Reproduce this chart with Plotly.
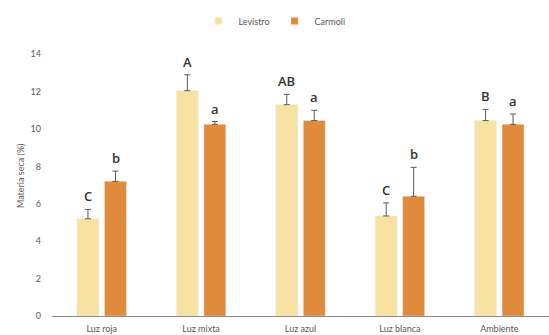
import plotly.graph_objects as go

# Dry matter (%) by light treatment for two lettuce cultivars
categories = ["Luz roja", "Luz mixta", "Luz azul", "Luz blanca", "Ambiente"]
levistro = [5.2, 12.05, 11.3, 5.35, 10.45]
levistro_err = [0.5, 0.85, 0.55, 0.7, 0.6]
carmoli = [7.2, 10.25, 10.45, 6.4, 10.25]
carmoli_err = [0.55, 0.15, 0.55, 1.55, 0.55]
levistro_letters = ["C", "A", "AB", "C", "B"]
carmoli_letters = ["b", "a", "a", "b", "a"]
y_ticks = [0, 2, 4, 6, 8, 10, 12, 14]

C_LEV = "#F8E2A2"
C_CAR = "#E08A3C"
TXT = "#595959"

fig = go.Figure()
for name, vals, errs, color in (
    ("Levistro", levistro, levistro_err, C_LEV),
    ("Carmoli", carmoli, carmoli_err, C_CAR),
):
    fig.add_trace(go.Bar(
        name=name, x=categories, y=vals, marker_color=color,
        legendgroup=name, showlegend=False,
        error_y=dict(type="data", array=errs, arrayminus=[0] * len(errs),
                     symmetric=False, color="#5a5a5a", thickness=1, width=3),
    ))
    # small square swatch for the legend entry
    fig.add_trace(go.Scatter(
        name=name, x=[None], y=[None], mode="markers", legendgroup=name,
        marker=dict(symbol="square", size=7, color=color),
    ))

# Significance letters above each error bar
annotations = []
for i, cat in enumerate(categories):
    for vals, errs, letters, shift in (
        (levistro, levistro_err, levistro_letters, -13.8),
        (carmoli, carmoli_err, carmoli_letters, 13.8),
    ):
        annotations.append(dict(
            x=cat, y=vals[i] + errs[i], xref="x", yref="y",
            text=letters[i], showarrow=False, xshift=shift, yshift=13,
            yanchor="middle",
            font=dict(family="Open Sans", size=13, color="#333333", weight=600),
        ))

fig.update_layout(
    width=549, height=335,
    margin=dict(l=52, r=0, t=30, b=19),
    paper_bgcolor="white", plot_bgcolor="white",
    barmode="group", bargap=0.447, bargroupgap=0.2,
    showlegend=True,
    legend=dict(
        orientation="h", x=0.5, xanchor="center", xref="container",
        y=1 - 21 / 335, yanchor="middle", yref="container",
        font=dict(family="Lato", size=9, color=TXT),
        itemwidth=30, traceorder="normal",
    ),
    annotations=annotations,
    font=dict(family="Lato", size=9, color=TXT),
)
fig.update_xaxes(
    showline=True, linecolor="#8a8a8a", linewidth=1,
    showgrid=False, ticks="", tickfont=dict(size=9, color=TXT),
    ticklabelstandoff=4, range=[-0.5, 4.5],
)
fig.update_yaxes(
    range=[0, 15], tickvals=y_ticks, showgrid=False, zeroline=False,
    showline=False, ticks="", ticklabelstandoff=10,
    tickfont=dict(size=9, color=TXT),
    title=dict(text="Materia seca (%)", font=dict(size=9, color=TXT), standoff=4),
)

fig.write_html("out.html")
